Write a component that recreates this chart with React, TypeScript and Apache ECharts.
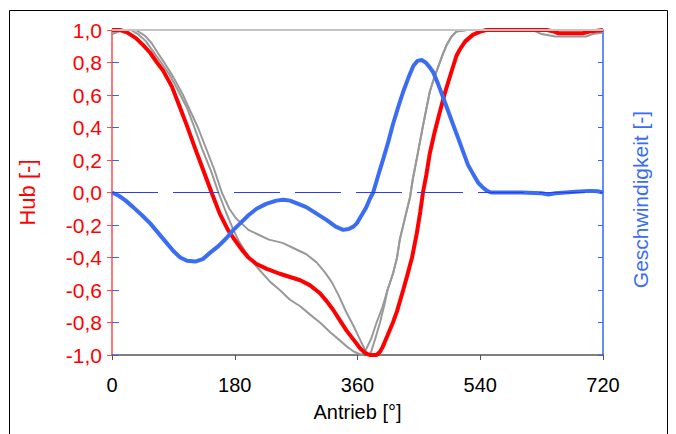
import React, { useEffect, useRef } from "react";
import * as echarts from "echarts";

// Antrieb [°] positions and values
const hubAngle = [0, 12, 22, 35, 45, 56, 66, 75, 88, 100, 110, 122, 134, 146, 158, 170, 178, 190, 200, 212, 227, 246, 261, 276, 290, 305, 315, 324, 334, 344, 355, 364, 372, 378, 388, 393, 397, 404, 412, 418, 427, 433, 440, 447, 452, 456, 461, 466, 473, 481, 488, 496, 505, 510, 518, 529, 540, 549, 600, 638, 648, 655, 690, 700, 720];
const hubValue = [1.0, 1.0, 0.985, 0.95, 0.91, 0.86, 0.8, 0.75, 0.65, 0.52, 0.41, 0.27, 0.135, 0.0, -0.13, -0.23, -0.28, -0.35, -0.4, -0.44, -0.47, -0.5, -0.52, -0.54, -0.57, -0.62, -0.67, -0.72, -0.785, -0.85, -0.91, -0.96, -0.99, -1.0, -1.0, -0.98, -0.95, -0.88, -0.8, -0.73, -0.6, -0.51, -0.4, -0.25, -0.12, 0.0, 0.11, 0.24, 0.37, 0.5, 0.61, 0.72, 0.84, 0.88, 0.93, 0.97, 0.99, 1.0, 1.0, 1.0, 0.99, 0.98, 0.98, 0.99, 1.0];

const grayAAngle = [0, 10, 20, 35, 48, 58, 67, 78, 90, 103, 115, 126, 139, 150, 161, 172, 182, 190, 200, 215, 230, 250, 265, 285, 300, 312, 322, 332, 344, 354, 362, 370, 376, 380, 386, 393, 400, 404, 412, 418, 422, 430, 437, 441, 447, 456, 466, 472, 478, 485, 491, 498, 505, 520, 617, 630, 650, 695, 705, 720];
const grayAValue = [0.975, 0.99, 1.0, 1.0, 0.965, 0.92, 0.86, 0.79, 0.71, 0.61, 0.5, 0.4, 0.26, 0.14, 0.0, -0.1, -0.16, -0.19, -0.23, -0.26, -0.29, -0.31, -0.34, -0.38, -0.43, -0.49, -0.55, -0.63, -0.74, -0.82, -0.89, -0.96, -1.0, -0.98, -0.9, -0.8, -0.68, -0.6, -0.5, -0.4, -0.29, -0.15, -0.03, 0.08, 0.21, 0.41, 0.62, 0.7, 0.77, 0.85, 0.91, 0.96, 0.99, 1.0, 1.0, 0.975, 0.96, 0.96, 0.975, 0.985];

const grayBAngle = [0, 8, 16, 28, 38, 50, 60, 72, 85, 98, 110, 120, 132, 145, 156, 167, 178, 186, 195, 205, 217, 232, 246, 261, 276, 290, 305, 320, 334, 345, 355, 366, 372, 380, 388, 397, 404, 412, 418, 422, 430, 437, 441, 447, 456, 466, 472, 478, 485, 491, 498, 505, 520, 720];
const grayBValue = [0.975, 0.99, 1.0, 1.0, 0.975, 0.93, 0.87, 0.8, 0.72, 0.62, 0.52, 0.41, 0.27, 0.135, 0.0, -0.12, -0.23, -0.3, -0.36, -0.42, -0.48, -0.55, -0.6, -0.66, -0.7, -0.75, -0.8, -0.86, -0.91, -0.95, -0.98, -1.0, -0.97, -0.9, -0.8, -0.7, -0.6, -0.5, -0.4, -0.29, -0.15, -0.03, 0.08, 0.21, 0.41, 0.62, 0.7, 0.77, 0.85, 0.91, 0.96, 0.99, 1.0, 1.0];

const speedAngle = [0, 10, 20, 31, 44, 56, 68, 80, 90, 100, 110, 122, 133, 144, 156, 168, 178, 188, 200, 212, 226, 241, 251, 261, 273, 285, 300, 315, 328, 339, 347, 354, 359, 366, 373, 378, 383, 390, 398, 405, 412, 420, 427, 435, 442, 448, 454, 460, 466, 471, 478, 486, 493, 500, 508, 515, 522, 530, 537, 544, 550, 556, 600, 630, 640, 650, 680, 700, 712, 720];
const speedValue = [0.0, -0.02, -0.05, -0.09, -0.14, -0.19, -0.25, -0.31, -0.36, -0.4, -0.42, -0.425, -0.41, -0.37, -0.33, -0.28, -0.23, -0.19, -0.14, -0.1, -0.07, -0.05, -0.045, -0.05, -0.07, -0.09, -0.13, -0.17, -0.21, -0.23, -0.225, -0.21, -0.19, -0.14, -0.09, -0.04, 0.0, 0.1, 0.21, 0.31, 0.42, 0.53, 0.62, 0.71, 0.78, 0.81, 0.815, 0.8, 0.77, 0.74, 0.67, 0.58, 0.5, 0.42, 0.33, 0.25, 0.17, 0.11, 0.06, 0.03, 0.01, 0.0, 0.0, -0.005, -0.012, -0.005, 0.005, 0.01, 0.008, 0.0];

const xTicks = { min: 0, max: 720, interval: 180 };
const yTicks = { min: -1, max: 1, interval: 0.2 };

const pairs = (xs: number[], ys: number[]) => xs.map((x, i) => [x, ys[i]]);
const fmt = (v: number) => (Math.abs(v) < 1e-9 ? 0 : v).toFixed(1).replace(".", ",");

const FONT = "Liberation Sans, Arial, sans-serif";
const RED = "#ff0000";
const BLUE = "#3a6cf4";

export default function App() {
  const ref = useRef<HTMLDivElement>(null);
  useEffect(() => {
    document.body.style.margin = "0";
    if (!ref.current) return;
    const chart = echarts.init(ref.current, undefined, { renderer: "svg" });
    chart.setOption({
      animation: false,
      backgroundColor: "#ffffff",
      grid: { left: 112, right: 73, top: 30, bottom: 79 },
      graphic: [
        {
          type: "rect",
          shape: { x: 9.5, y: 10.5, width: 658, height: 440 },
          style: { fill: "none", stroke: "#000000", lineWidth: 1 },
          silent: true,
          z: -10,
        },
      ],
      xAxis: {
        type: "value",
        ...xTicks,
        name: "Antrieb [°]",
        nameLocation: "middle",
        nameGap: 47,
        nameTextStyle: { color: "#000", fontFamily: FONT, fontSize: 20 },
        axisLine: { show: true, onZero: false, lineStyle: { color: "#555555", width: 1.5 } },
        axisTick: { show: true, length: 5, lineStyle: { color: "#555555" } },
        axisLabel: { color: "#000", fontFamily: FONT, fontSize: 20, margin: 20 },
        splitLine: { show: false },
      },
      yAxis: [
        {
          type: "value",
          position: "left",
          ...yTicks,
          name: "Hub [-]",
          nameLocation: "middle",
          nameGap: 74,
          nameTextStyle: { color: RED, fontFamily: FONT, fontSize: 22 },
          axisLine: { show: true, onZero: false, lineStyle: { color: "#ff4a4a", width: 1.5 } },
          axisTick: { show: true, length: 5, lineStyle: { color: "#ff4a4a" } },
          axisLabel: { color: RED, fontFamily: FONT, fontSize: 21, margin: 10, formatter: fmt },
          splitLine: { show: false },
        },
        {
          type: "value",
          position: "right",
          ...yTicks,
          name: "Geschwindigkeit [-]",
          nameLocation: "middle",
          nameGap: 27,
          nameTextStyle: { color: BLUE, fontFamily: FONT, fontSize: 21, padding: [0, 14, 0, 0] },
          axisLine: { show: true, onZero: false, lineStyle: { color: "#3366ff", width: 1.5 } },
          axisTick: { show: true, inside: true, length: 5, lineStyle: { color: "#3366ff" } },
          axisLabel: { show: false },
          splitLine: { show: false },
        },
        {
          type: "value",
          position: "right",
          ...yTicks,
          axisLine: { show: false },
          axisTick: { show: true, length: 7, lineStyle: { color: "#3366ff" } },
          axisLabel: { show: false },
          splitLine: { show: false },
        },
      ],
      series: [
        {
          type: "line",
          yAxisIndex: 0,
          data: pairs(grayAAngle, grayAValue),
          symbol: "none",
          lineStyle: { color: "#999999", width: 2 },
          z: 2,
          markLine: {
            silent: true,
            symbol: "none",
            label: { show: false },
            data: [
              { yAxis: 1, lineStyle: { color: "#c4c4c4", width: 2, type: "solid" } },
              { yAxis: 0, lineStyle: { color: "#2f3cf2", width: 1, type: [46, 15] } },
            ],
          },
        },
        {
          type: "line",
          yAxisIndex: 0,
          data: pairs(grayBAngle, grayBValue),
          symbol: "none",
          lineStyle: { color: "#999999", width: 2 },
          z: 2,
        },
        {
          type: "line",
          yAxisIndex: 0,
          data: pairs(hubAngle, hubValue),
          symbol: "none",
          lineStyle: { color: RED, width: 4 },
          z: 3,
        },
        {
          type: "line",
          yAxisIndex: 1,
          data: pairs(speedAngle, speedValue),
          symbol: "none",
          lineStyle: { color: BLUE, width: 4 },
          z: 4,
        },
      ],
    });
    return () => chart.dispose();
  }, []);
  return <div ref={ref} style={{ width: 676, height: 434 }} />;
}
